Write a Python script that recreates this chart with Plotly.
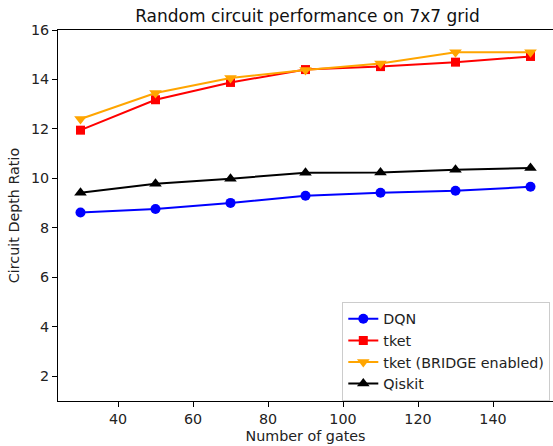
import plotly.graph_objects as go

gates = [30, 50, 70, 90, 110, 130, 150]
dqn = [8.62, 8.76, 9.01, 9.30, 9.42, 9.50, 9.66]
tket = [11.95, 13.18, 13.88, 14.40, 14.52, 14.70, 14.93]
tket_bridge = [12.40, 13.45, 14.06, 14.38, 14.65, 15.10, 15.10]
qiskit = [9.42, 9.78, 9.99, 10.23, 10.24, 10.35, 10.42]

x_ticks = [40, 60, 80, 100, 120, 140]
y_ticks = [2, 4, 6, 8, 10, 12, 14, 16]

FONT = "DejaVu Sans"

series = [
    ("DQN", dqn, "#0000ff", "circle", 10),
    ("tket", tket, "#ff0000", "square", 9),
    ("tket (BRIDGE enabled)", tket_bridge, "#ffa500", "triangle-down", 11),
    ("Qiskit", qiskit, "#000000", "triangle-up", 11),
]

fig = go.Figure()
for name, vals, color, sym, size in series:
    fig.add_trace(go.Scatter(
        x=gates, y=vals, name=name, mode="lines+markers",
        line=dict(color=color, width=2),
        marker=dict(symbol=sym, size=size, color=color),
    ))

axis_common = dict(
    showgrid=False, zeroline=False, showline=True, linecolor="black",
    linewidth=1.1, ticks="outside", ticklen=5, tickwidth=1.1,
    tickcolor="black", tickfont=dict(family=FONT, size=14.3, color="#222222"),
)

fig.update_layout(
    width=553, height=446,
    margin=dict(l=58, r=0, t=30, b=45),
    paper_bgcolor="white", plot_bgcolor="white",
    font=dict(family=FONT, color="#222222"),
    title=dict(text="Random circuit performance on 7x7 grid",
               font=dict(family=FONT, size=17, color="#111111"),
               xref="paper", x=0.504, xanchor="center",
               yref="container", y=1 - 16 / 446, yanchor="middle"),
    xaxis=dict(range=[24, 156], tickvals=x_ticks, mirror=True,
               title=dict(text="Number of gates", font=dict(family=FONT, size=14.3),
                          standoff=4),
               **axis_common),
    yaxis=dict(range=[1, 16], tickvals=y_ticks,
               title=dict(text="Circuit Depth Ratio", font=dict(family=FONT, size=14.3),
                          standoff=7),
               **axis_common),
    legend=dict(x=(342.3 - 58) / 495, y=(401 - 302) / 371,
                xanchor="left", yanchor="top",
                bgcolor="white", bordercolor="#cccccc", borderwidth=1,
                font=dict(family=FONT, size=14.3, color="#222222"),
                tracegroupgap=0, itemwidth=30),
    showlegend=True,
)

fig.write_html("out.html")
